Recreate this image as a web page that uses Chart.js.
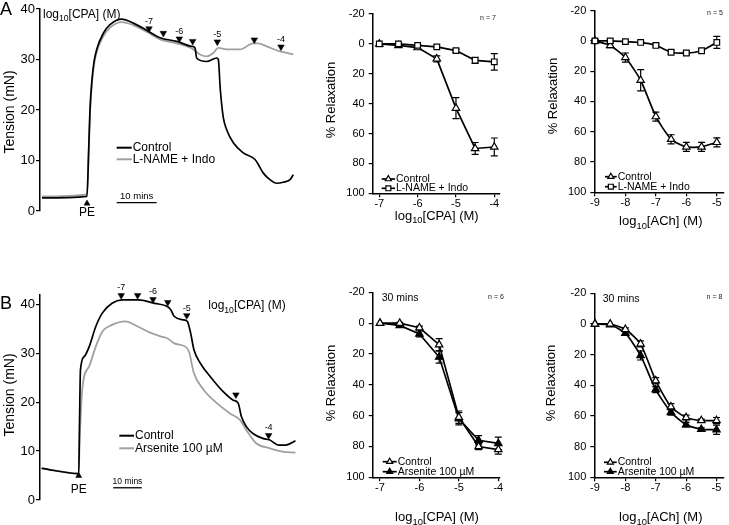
<!DOCTYPE html>
<html>
<head>
<meta charset="utf-8">
<script src="https://cdn.jsdelivr.net/npm/chart.js@4.4.1/dist/chart.umd.min.js"></script>
<style>
  body { margin: 0; background: #fff; }
  #fig { position: relative; width: 729px; height: 525px; overflow: hidden; background: #fff; }
  #fig canvas { position: absolute; }
</style>
</head>
<body>
<div id="fig"></div>
<script>
// ---- data ----
const tensionTicks = [0, 10, 20, 30, 40];
const relaxTicks = [-20, 0, 20, 40, 60, 80, 100];
const cpaTicks = [-7, -6, -5, -4];
const achTicks = [-9, -8, -7, -6, -5];
const arrowLabels = ['-7', '', '-6', '', '-5', '', '-4'];

// panel A trace: time (min) vs tension (mN)
const aCtrlTime = [0.5, 11.75, 12.17, 12.5, 13, 13.5, 14.17, 15.83, 17.5, 20.42, 23.33, 27.08, 30, 34.17, 37.92, 38.75, 39.17, 41.67, 44.17, 44.58, 45.08, 45.83, 46.67, 48.33, 50.83, 53.75, 54.58, 55.83, 57.5, 59.17, 60.83, 62.5, 63.33];
const aCtrlTension = [2.6, 2.9, 12, 20, 26, 29.5, 32, 35.2, 36.9, 38, 37.2, 35.6, 34.3, 33.6, 32.6, 32.3, 30.3, 29.6, 30.3, 30, 24, 18.5, 16.1, 13.5, 11.5, 10.2, 9.2, 7.5, 6.2, 5.5, 5.7, 6.2, 7.2];
const aLnameTime = [0.5, 11.75, 12.17, 12.5, 13, 13.5, 14.17, 15.83, 17.5, 20.42, 23.33, 27.08, 30, 34.17, 38.33, 40, 41.67, 43.33, 44.58, 46.67, 50, 53.33, 54.58, 56.67, 60, 61.67, 63.33];
const aLnameTension = [2.9, 3.3, 11.5, 19.5, 25.5, 29, 31.5, 34.6, 36.3, 37.4, 36.8, 35.3, 34, 33.2, 32, 31, 30.6, 31.3, 32.3, 32, 32, 33.2, 33.2, 32.6, 31.6, 31.3, 31];
const aArrowTime = [27.25, 30.83, 34.83, 38.17, 44.33, 53.58, 60.25];
const aArrowLevel = [36.1, 35.2, 34.1, 33.6, 33.5, 33.9, 32.5];
const aPE = [11.75, 1.5];
const aScaleBar = [19.17, 29.17, 1.65];

// panel B trace
const bCtrlTime = [0.57, 13.6, 13.85, 14.2, 15.52, 17.24, 19.54, 21.84, 25.29, 28.74, 34.48, 40.23, 44.83, 45.98, 47.13, 50.57, 51.72, 52.87, 54.02, 56.32, 59.77, 64.37, 67.82, 69.54, 70.69, 72.41, 74.71, 78.16, 80.46, 83.91, 86.21, 89.66];
const bCtrlTension = [6.47, 5.4, 15, 26.6, 29.3, 31.3, 35.4, 38.2, 40.2, 40.9, 40.9, 40.2, 39.5, 38.8, 37.5, 36.8, 36.5, 34.1, 30.7, 27.9, 25.2, 22.1, 20.4, 19.8, 17, 15, 13.6, 12.6, 12.3, 11.2, 11.2, 12.1];
const bArsTime = [0.57, 13.6, 13.85, 14.94, 17.24, 19.54, 21.84, 25.29, 29.89, 34.48, 39.08, 42.53, 44.83, 47.13, 51.15, 52.3, 54.02, 57.47, 62.07, 66.67, 70.11, 72.41, 75.86, 80.46, 85.06, 89.66];
const bArsTension = [6.47, 5.4, 10.9, 23.2, 27.3, 31.3, 34.4, 35.8, 36.5, 35.4, 34.1, 33.4, 33, 32, 31.3, 30.3, 25.9, 22.5, 19.8, 17.7, 16.4, 14.3, 11.6, 10.6, 9.9, 9.7];
const bArrowTime = [28.5, 34.25, 39.66, 44.83, 51.49, 68.74, 80.23];
const bArrowLevel = [41.8, 41.8, 41, 40.4, 37.7, 21.5, 13.2];
const bPE = [13.6, 4.95];
const bScaleBar = [25.7, 35.7, 2.5];

// concentration-response data (% relaxation, mean and SEM)
const cpaDose = [-7, -6.5, -6, -5.5, -5, -4.5, -4];
const achDose = [-9, -8.5, -8, -7.5, -7, -6.5, -6, -5.5, -5];
const aCpaControl = [0, 1, 2.5, 10, 43, 70, 69];
const aCpaControlSem = [0, 1, 1, 2, 7, 4, 6];
const aCpaLname = [0, 0, 1, 2, 4.5, 11, 12];
const aCpaLnameSem = [0, 0, 0.5, 0.5, 1, 2, 5.5];
const aAchControl = [0, 3, 11, 26, 50, 65, 70, 70, 67];
const aAchControlSem = [1, 1.5, 3, 7, 3, 3, 3, 3, 3];
const aAchLname = [0, 0, 0.5, 1, 3, 7.5, 8, 6.5, 1];
const aAchLnameSem = [0.5, 0.5, 0.5, 0.5, 1, 1, 1, 1, 4];
const bCpaControl = [0, 0, 3, 14, 61, 80, 82];
const bCpaControlSem = [0, 0.5, 1, 4, 4, 2, 3];
const bCpaArsenite = [0, 1.5, 7, 22, 62, 76, 78];
const bCpaArseniteSem = [0, 1, 2, 4, 4, 3, 4];
const bAchControl = [0, 0, 3.5, 13, 37, 54, 61, 63, 63];
const bAchControlSem = [0, 0, 1, 2, 2, 2, 1.5, 1, 2];
const bAchArsenite = [0, 0.5, 6, 20.5, 42.8, 57.5, 65.7, 68.7, 69];
const bAchArseniteSem = [0, 0, 1, 3, 2, 2, 1.5, 1, 3];

// ---- drawing ----
const FONT = '"Liberation Sans", Arial, sans-serif';
const GRAY = '#a0a0a0';
Chart.defaults.font.family = FONT;
Chart.defaults.color = '#000';
Chart.defaults.animation = false;
Chart.defaults.responsive = false;
Chart.defaults.maintainAspectRatio = false;
Chart.defaults.plugins.legend.display = false;
Chart.defaults.plugins.tooltip.enabled = false;

const fig = document.getElementById('fig');
const axisGrid = { drawOnChartArea: false, drawTicks: true, tickLength: 4, color: '#000', lineWidth: 1.2 };
const axisBorder = { display: true, color: '#000', width: 1.5 };

function makeCanvas(box) {
    const c = document.createElement('canvas');
    c.width = box.w;
    c.height = box.h;
    c.style.left = box.left + 'px';
    c.style.top = box.top + 'px';
    fig.appendChild(c);
    return c;
}

function pts(xs, ys) {
    return xs.map((x, i) => ({ x: x, y: ys[i] }));
}

function text(ctx, str, x, y, size, align, color) {
    ctx.font = size + 'px ' + FONT;
    ctx.fillStyle = color || '#000';
    ctx.textAlign = align || 'left';
    ctx.textBaseline = 'middle';
    ctx.fillText(str, x, y);
}

function vText(ctx, str, x, y, size) {
    ctx.save();
    ctx.translate(x, y);
    ctx.rotate(-Math.PI / 2);
    text(ctx, str, 0, 0, size, 'center');
    ctx.restore();
}

// "log10[agent] (M)" with a subscript 10
function logText(ctx, agent, x, y, size, align) {
    const pieces = [['log', size, 0], ['10', size * 0.72, size * 0.28], ['[' + agent + '] (M)', size, 0]];
    let w = 0;
    pieces.forEach(p => { ctx.font = p[1] + 'px ' + FONT; w += ctx.measureText(p[0]).width; });
    let cx = align === 'center' ? x - w / 2 : x;
    ctx.textAlign = 'left';
    ctx.textBaseline = 'alphabetic';
    ctx.fillStyle = '#000';
    const base = y + size * 0.36;
    pieces.forEach(p => {
        ctx.font = p[1] + 'px ' + FONT;
        ctx.fillText(p[0], cx, base + p[2]);
        cx += ctx.measureText(p[0]).width;
    });
}

function overlay(box, draw) {
    return {
        id: 'overlay',
        afterDraw(chart) {
            const ctx = chart.ctx;
            const at = (xv, yv) => [chart.scales.x.getPixelForValue(xv) + box.left, chart.scales.y.getPixelForValue(yv) + box.top];
            ctx.save();
            ctx.translate(-box.left, -box.top);
            draw(ctx, chart, at);
            ctx.restore();
        }
    };
}

// SEM bars, drawn under the lines and markers
const errorBars = {
    id: 'errorBars',
    beforeDatasetsDraw(chart) {
        const ctx = chart.ctx;
        const ys = chart.scales.y;
        chart.data.datasets.forEach((ds, i) => {
            if (!ds.err) return;
            chart.getDatasetMeta(i).data.forEach((pt, j) => {
                const e = ds.err[j];
                if (!e) return;
                const v = ds.data[j].y;
                const y1 = ys.getPixelForValue(v - e), y2 = ys.getPixelForValue(v + e);
                ctx.save();
                ctx.strokeStyle = '#000';
                ctx.lineWidth = 1.2;
                ctx.beginPath();
                ctx.moveTo(pt.x, y1); ctx.lineTo(pt.x, y2);
                ctx.moveTo(pt.x - 3.5, y1); ctx.lineTo(pt.x + 3.5, y1);
                ctx.moveTo(pt.x - 3.5, y2); ctx.lineTo(pt.x + 3.5, y2);
                ctx.stroke();
                ctx.restore();
            });
        });
    }
};
Chart.register(errorBars);

function traceChart(o) {
    const canvas = makeCanvas(o.box);
    return new Chart(canvas, {
        type: 'line',
        data: {
            datasets: [
                { data: pts(o.arrowT, o.arrowV), showLine: false, pointStyle: 'triangle', rotation: 180, pointRadius: 3.8,
                  pointBackgroundColor: '#000', pointBorderColor: '#000', pointBorderWidth: 0.5, clip: false },
                { data: [{ x: o.pe[0], y: o.pe[1] }], showLine: false, pointStyle: 'triangle', pointRadius: 3.5,
                  pointBackgroundColor: '#000', pointBorderColor: '#000', pointBorderWidth: 0.5, clip: false },
                { data: [{ x: o.bar[0], y: o.bar[2] }, { x: o.bar[1], y: o.bar[2] }], borderColor: '#000', borderWidth: 1.3, pointRadius: 0, clip: false },
                { data: pts(o.ctrlT, o.ctrlV), borderColor: '#000', borderWidth: 1.7, pointRadius: 0, cubicInterpolationMode: 'monotone', clip: false },
                { data: pts(o.grayT, o.grayV), borderColor: GRAY, borderWidth: 1.8, pointRadius: 0, cubicInterpolationMode: 'monotone', clip: false }
            ]
        },
        options: {
            layout: { padding: o.pad },
            scales: {
                x: { type: 'linear', display: false, min: 0, max: o.xMax },
                y: {
                    min: 0, max: o.yMax,
                    afterBuildTicks: s => { s.ticks = tensionTicks.map(v => ({ value: v })); },
                    afterFit: s => { s.width = o.yWidth; },
                    ticks: { font: { size: 13 }, padding: 1 },
                    grid: axisGrid, border: axisBorder
                }
            }
        },
        plugins: [overlay(o.box, (ctx, chart, at) => {
            o.arrowT.forEach((t, i) => {
                if (!arrowLabels[i]) return;
                const p = at(t, o.arrowV[i]);
                text(ctx, arrowLabels[i], p[0], p[1] - 7.5, 9, 'center');
            });
            const pe = at(o.pe[0], o.pe[1]);
            text(ctx, 'PE', pe[0], o.peTextY, 12, 'center');
            const b0 = at(o.bar[0], o.bar[2]), b1 = at(o.bar[1], o.bar[2]);
            text(ctx, '10 mins', (b0[0] + b1[0]) / 2, b0[1] - 6, o.barFont, 'center');
            o.legend.rows.forEach(r => {
                ctx.strokeStyle = r.color;
                ctx.lineWidth = 2;
                ctx.beginPath();
                ctx.moveTo(o.legend.x0, r.y);
                ctx.lineTo(o.legend.x1, r.y);
                ctx.stroke();
                text(ctx, r.label, o.legend.x1 + 1, r.y, 12);
            });
            o.draw(ctx);
        })]
    });
}

function doseChart(o) {
    const canvas = makeCanvas(o.box);
    return new Chart(canvas, {
        type: 'line',
        data: {
            datasets: o.series.map(s => ({
                label: s.label,
                data: pts(o.dose, s.values),
                err: s.sem,
                borderColor: '#000', borderWidth: 1.7, tension: o.tension, clip: false,
                pointStyle: s.style, pointRadius: s.style === 'rect' ? 4 : 4.3,
                pointBackgroundColor: s.fill, pointBorderColor: '#000', pointBorderWidth: 1.2
            }))
        },
        options: {
            layout: { padding: o.pad },
            scales: {
                x: {
                    type: 'linear', min: o.xMin, max: o.xMax,
                    afterBuildTicks: s => { s.ticks = o.ticks.map(v => ({ value: v })); },
                    afterFit: s => { s.height = 18; },
                    ticks: { font: { size: 11 }, padding: 0, maxRotation: 0, autoSkip: false },
                    grid: axisGrid, border: axisBorder
                },
                y: {
                    min: -20, max: 100, reverse: true,
                    afterBuildTicks: s => { s.ticks = relaxTicks.map(v => ({ value: v })); },
                    afterFit: s => { s.width = o.yWidth; },
                    ticks: { font: { size: 11 }, padding: 4 },
                    grid: axisGrid, border: axisBorder
                }
            }
        },
        plugins: [overlay(o.box, (ctx, chart) => {
            vText(ctx, '% Relaxation', o.yTitle[0], o.yTitle[1], 13);
            logText(ctx, o.agent, o.xTitle[0], o.xTitle[1], 13, 'center');
            text(ctx, o.n, o.nPos[0], o.nPos[1], 7, 'center', '#222');
            o.legend.order.forEach((idx, k) => {
                const ds = chart.data.datasets[idx];
                const y = o.legend.y[k];
                ctx.strokeStyle = '#000';
                ctx.lineWidth = 1.7;
                ctx.beginPath();
                ctx.moveTo(o.legend.x0, y);
                ctx.lineTo(o.legend.x1, y);
                ctx.stroke();
                ctx.fillStyle = ds.pointBackgroundColor;
                ctx.lineWidth = 1.2;
                Chart.helpers.drawPoint(ctx, { pointStyle: ds.pointStyle, radius: 3.5, rotation: 0, borderWidth: 1.2 },
                    (o.legend.x0 + o.legend.x1) / 2, y);
                text(ctx, ds.label, o.legend.x1 + 1, y, 10.5);
            });
            if (o.draw) o.draw(ctx);
        })]
    });
}

// A: CPA trace
traceChart({
    box: { left: 0, top: 0, w: 300, h: 250 },
    pad: { top: 9, bottom: 39, left: 0, right: 6 },
    yWidth: 40, yMax: 40, xMax: 63.5,
    ctrlT: aCtrlTime, ctrlV: aCtrlTension, grayT: aLnameTime, grayV: aLnameTension,
    arrowT: aArrowTime, arrowV: aArrowLevel, pe: aPE, peTextY: 212.7, bar: aScaleBar, barFont: 9.5,
    legend: { x0: 116.7, x1: 131.7, rows: [{ y: 147.7, color: '#000', label: 'Control' }, { y: 159.3, color: GRAY, label: 'L-NAME + Indo' }] },
    draw: ctx => {
        text(ctx, 'A', 0, 10, 18);
        logText(ctx, 'CPA', 43, 13.3, 12, 'left');
        vText(ctx, 'Tension (mN)', 10, 112, 14);
    }
});

// A: CPA concentration-response
doseChart({
    box: { left: 300, top: 0, w: 210, h: 250 },
    pad: { top: 14, bottom: 38.7, left: 0, right: 10 },
    yWidth: 72.7, xMin: -7.172, xMax: -3.851, ticks: cpaTicks, dose: cpaDose, tension: 0, agent: 'CPA',
    series: [
        { label: 'L-NAME + Indo', values: aCpaLname, sem: aCpaLnameSem, style: 'rect', fill: '#fff' },
        { label: 'Control', values: aCpaControl, sem: aCpaControlSem, style: 'triangle', fill: '#fff' }
    ],
    legend: { x0: 381.7, x1: 395, y: [179, 188.3], order: [1, 0] },
    yTitle: [331.7, 100], xTitle: [436.7, 215], n: 'n = 7', nPos: [488, 18.3]
});

// A: ACh concentration-response
doseChart({
    box: { left: 510, top: 0, w: 219, h: 250 },
    pad: { top: 7.3, bottom: 39.7, left: 0, right: 0 },
    yWidth: 84.3, xMin: -9.022, xMax: -4.78, ticks: achTicks, dose: achDose, tension: 0.2, agent: 'ACh',
    series: [
        { label: 'L-NAME + Indo', values: aAchLname, sem: aAchLnameSem, style: 'rect', fill: '#fff' },
        { label: 'Control', values: aAchControl, sem: aAchControlSem, style: 'triangle', fill: '#fff' }
    ],
    legend: { x0: 605, x1: 616.7, y: [176.7, 186.7], order: [1, 0] },
    yTitle: [553.3, 96], xTitle: [660.8, 220.7], n: 'n = 5', nPos: [715, 13.3]
});

// B: CPA trace
traceChart({
    box: { left: 0, top: 255, w: 300, h: 270 },
    pad: { top: 39.5, bottom: 25, left: 0, right: 0 },
    yWidth: 40, yMax: 42, xMax: 89.66,
    ctrlT: bCtrlTime, ctrlV: bCtrlTension, grayT: bArsTime, grayV: bArsTension,
    arrowT: bArrowTime, arrowV: bArrowLevel, pe: bPE, peTextY: 490, bar: bScaleBar, barFont: 8.5,
    legend: { x0: 119.3, x1: 134, rows: [{ y: 435.7, color: '#000', label: 'Control' }, { y: 448.3, color: GRAY, label: 'Arsenite 100 \u00b5M' }] },
    draw: ctx => {
        text(ctx, 'B', 0, 304, 18);
        logText(ctx, 'CPA', 208.3, 305, 12, 'left');
        vText(ctx, 'Tension (mN)', 10, 395, 14);
    }
});

// B: CPA concentration-response
doseChart({
    box: { left: 300, top: 255, w: 210, h: 270 },
    pad: { top: 37.3, bottom: 29.7, left: 0, right: 10 },
    yWidth: 72.7, xMin: -7.185, xMax: -3.957, ticks: cpaTicks, dose: cpaDose, tension: 0, agent: 'CPA',
    series: [
        { label: 'Control', values: bCpaControl, sem: bCpaControlSem, style: 'triangle', fill: '#fff' },
        { label: 'Arsenite 100 \u00b5M', values: bCpaArsenite, sem: bCpaArseniteSem, style: 'triangle', fill: '#000' }
    ],
    legend: { x0: 382.7, x1: 396.7, y: [461.7, 471.7], order: [0, 1] },
    yTitle: [331.7, 383], xTitle: [437, 516.7], n: 'n = 6', nPos: [496, 297],
    draw: ctx => { text(ctx, '30 mins', 381.7, 298, 10.5); }
});

// B: ACh concentration-response
doseChart({
    box: { left: 510, top: 255, w: 219, h: 270 },
    pad: { top: 38.3, bottom: 29.7, left: 0, right: 0 },
    yWidth: 84.3, xMin: -9.022, xMax: -4.77, ticks: achTicks, dose: achDose, tension: 0.2, agent: 'ACh',
    series: [
        { label: 'Control', values: bAchControl, sem: bAchControlSem, style: 'triangle', fill: '#fff' },
        { label: 'Arsenite 100 \u00b5M', values: bAchArsenite, sem: bAchArseniteSem, style: 'triangle', fill: '#000' }
    ],
    legend: { x0: 604, x1: 616.7, y: [462.3, 471.7], order: [0, 1] },
    yTitle: [551.7, 383], xTitle: [660.8, 516.7], n: 'n = 8', nPos: [714.5, 297.3],
    draw: ctx => { text(ctx, '30 mins', 602.7, 299, 10.5); }
});
</script>
</body>
</html>
